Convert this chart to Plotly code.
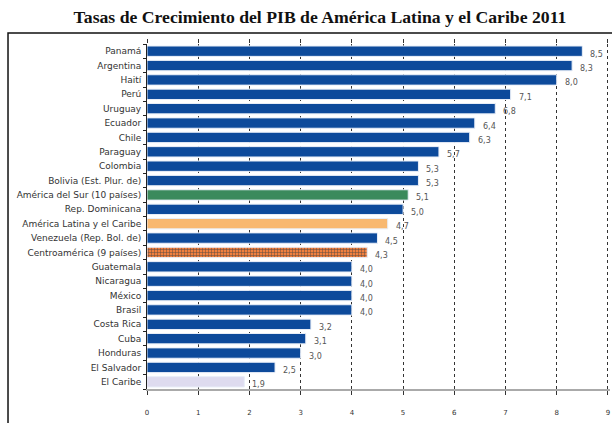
import plotly.graph_objects as go

categories = ["Panamá", "Argentina", "Haití", "Perú", "Uruguay", "Ecuador", "Chile",
              "Paraguay", "Colombia", "Bolivia (Est. Plur. de)", "América del Sur (10 países)",
              "Rep. Dominicana", "América Latina y el Caribe", "Venezuela (Rep. Bol. de)",
              "Centroamérica (9 países)", "Guatemala", "Nicaragua", "México", "Brasil",
              "Costa Rica", "Cuba", "Honduras", "El Salvador", "El Caribe"]
values = [8.5, 8.3, 8.0, 7.1, 6.8, 6.4, 6.3, 5.7, 5.3, 5.3, 5.1, 5.0, 4.7, 4.5, 4.3,
          4.0, 4.0, 4.0, 4.0, 3.2, 3.1, 3.0, 2.5, 1.9]
x_ticks = [0, 1, 2, 3, 4, 5, 6, 7, 8, 9]

BLUE = "#0D4A9B"
special_colors = {"América del Sur (10 países)": "#3B8A5C",
                  "América Latina y el Caribe": "#F8B870",
                  "Centroamérica (9 países)": "#F07F3F",
                  "El Caribe": "#DEDBEF"}
colors = [special_colors.get(c, BLUE) for c in categories]
shapes_pat = ["+" if c == "Centroamérica (9 países)" else "" for c in categories]
labels = [f"{v:.1f}".replace(".", ",") for v in values]

FONT = "DejaVu Sans, Verdana, Arial"

W, H = 612, 423
XMAX = 9.04
UNIT = 461 / 9.0
L, T, B = 147, 44, 34
pw = XMAX * UNIT
R = W - L - pw
ph = H - T - B

fig = go.Figure()
fig.add_trace(go.Bar(
    x=values, y=categories, orientation="h",
    marker=dict(color=colors, line=dict(color="#E8EEF8", width=1),
                pattern=dict(shape=shapes_pat, fgcolor="#FCD9BC", fgopacity=0.85,
                             size=3, solidity=0.3, fillmode="overlay")),
    width=0.72,
    showlegend=False,
))
# top ticks
fig.add_trace(go.Scatter(x=[None], y=[None], xaxis="x2", showlegend=False))

annotations = [dict(x=v, y=c, xref="x", yref="y", text=t, showarrow=False,
                    xanchor="left", yanchor="middle", xshift=6, yshift=-3,
                    font=dict(family=FONT, size=8, color="#555555"))
               for c, v, t in zip(categories, values, labels)]

fig.update_layout(
    width=W, height=H,
    margin=dict(l=L, r=R, t=T, b=B, autoexpand=False),
    paper_bgcolor="white", plot_bgcolor="white",
    title=dict(text="<b>Tasas de Crecimiento del PIB de América Latina y el Caribe 2011</b>",
               x=320 / W, xanchor="center", y=1 - 16.5 / H, yanchor="middle",
               font=dict(family="Liberation Serif, Times New Roman", size=17.7, color="#111111")),
    xaxis=dict(range=[0, XMAX], tickvals=x_ticks, ticktext=[str(t) for t in x_ticks],
               showgrid=True, gridcolor="#333333", griddash="dot", gridwidth=1.3,
               showline=True, linecolor="#AAAAAA", linewidth=1.5,
               ticks="outside", ticklen=4, tickcolor="#333333",
               ticklabelstandoff=12, automargin=False, ticklabeloverflow="allow",
               tickfont=dict(family=FONT, size=7, color="#333333"),
               zeroline=False, fixedrange=True),
    xaxis2=dict(range=[0, XMAX], tickvals=x_ticks, overlaying="x", side="top",
                showgrid=False, showline=False, showticklabels=False, automargin=False,
                ticks="outside", ticklen=4, tickcolor="#333333", zeroline=False),
    yaxis=dict(categoryorder="array", categoryarray=categories[::-1],
               range=[-0.5, len(categories) - 0.5], automargin=False,
               showline=True, linecolor="#222222", linewidth=1,
               ticks="outside", ticklen=3, tickcolor="#222222", tickson="boundaries",
               ticklabelstandoff=3,
               tickfont=dict(family=FONT, size=9, color="#333333"),
               showgrid=False, zeroline=False),
    bargap=0.28,
    annotations=annotations,
    shapes=[dict(type="rect", xref="paper", yref="paper",
                 x0=(8 - L) / pw, x1=(W + 10 - L) / pw,
                 y0=-(B + 10) / ph, y1=(ph + T - 33) / ph,
                 line=dict(color="#111111", width=1.5), fillcolor="rgba(0,0,0,0)",
                 layer="below")],
)

post = ("document.body.style.margin='0';document.body.style.padding='0';"
        "document.body.style.overflow='hidden';"
        "document.documentElement.style.overflow='hidden';")
fig.write_html("out.html", post_script=post, config={"displayModeBar": False})
